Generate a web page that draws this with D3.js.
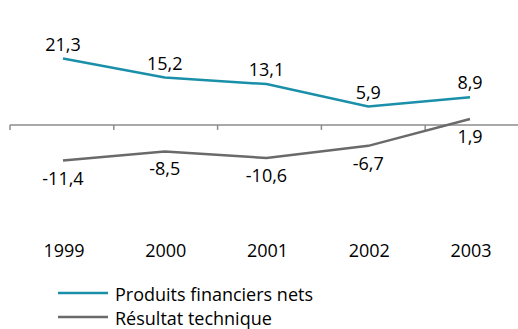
<!DOCTYPE html>
<html>
<head>
<meta charset="utf-8">
<script src="https://cdn.jsdelivr.net/npm/d3@7"></script>
<style>
  html, body { margin: 0; padding: 0; background: #fff; }
  svg { display: block; font-family: "Open Sans", "Noto Sans", sans-serif; }
</style>
</head>
<body>
<svg id="chart" width="518" height="329"></svg>
<script>
// Data
const years = ["1999", "2000", "2001", "2002", "2003"];
const produitsFinanciers = [21.3, 15.2, 13.1, 5.9, 8.9];
const resultatTechnique = [-11.4, -8.5, -10.6, -6.7, 1.9];
const seriesNames = ["Produits financiers nets", "Résultat technique"];
const subtitle = "(en % des primes acquises)";

const cyan = "#1a8fa9";
const grey = "#6a6a6a";
const axisGrey = "#8c8c8c";
const fontSize = 18;

const svg = d3.select("#chart");

// Scales
const x = d3.scalePoint().domain(years).range([63, 470]);
const xBand = d3.scaleBand().domain(years).range([10, 529]);
const y = d3.scaleLinear().domain([-11.4, 21.3]).range([160.5, 58.5]);

const fmt = v => String(v.toFixed(1)).replace(".", ",");

// Subtitle, running off the top edge
svg.append("text")
  .attr("x", 8).attr("y", -4)
  .attr("fill", cyan)
  .attr("font-size", 18)
  .text(subtitle);

// Zero axis
svg.append("line")
  .attr("x1", 10).attr("x2", 518)
  .attr("y1", y(0)).attr("y2", y(0))
  .attr("stroke", axisGrey).attr("stroke-width", 1.5);

svg.append("g").selectAll("line")
  .data(years)
  .join("line")
  .attr("x1", d => xBand(d)).attr("x2", d => xBand(d))
  .attr("y1", y(0)).attr("y2", y(0) + 5)
  .attr("stroke", axisGrey).attr("stroke-width", 1.5);

// Lines
const line = d3.line()
  .x((d, i) => x(years[i]))
  .y(d => y(d));

svg.append("path")
  .datum(produitsFinanciers)
  .attr("d", line)
  .attr("fill", "none")
  .attr("stroke", cyan)
  .attr("stroke-width", 2.5);

svg.append("path")
  .datum(resultatTechnique)
  .attr("d", line)
  .attr("fill", "none")
  .attr("stroke", grey)
  .attr("stroke-width", 2.5);

// Value labels
svg.append("g").selectAll("text")
  .data(produitsFinanciers)
  .join("text")
  .attr("x", (d, i) => x(years[i]))
  .attr("y", d => y(d) - 8)
  .attr("text-anchor", "middle")
  .attr("font-size", fontSize)
  .attr("fill", "#000")
  .text(fmt);

svg.append("g").selectAll("text")
  .data(resultatTechnique)
  .join("text")
  .attr("x", (d, i) => x(years[i]))
  .attr("y", d => y(d) + 24)
  .attr("text-anchor", "middle")
  .attr("font-size", fontSize)
  .attr("fill", "#000")
  .text(fmt);

// Year labels
svg.append("g").selectAll("text")
  .data(years)
  .join("text")
  .attr("x", d => x(d) + 1)
  .attr("y", 257)
  .attr("text-anchor", "middle")
  .attr("font-size", fontSize)
  .attr("fill", "#000")
  .text(d => d);

// Legend
const legend = svg.append("g");
const legendColors = [cyan, grey];
legendColors.forEach((c, i) => {
  const ly = 293 + i * 24;
  legend.append("line")
    .attr("x1", 58).attr("x2", 108)
    .attr("y1", ly).attr("y2", ly)
    .attr("stroke", c).attr("stroke-width", 2.5);
  legend.append("text")
    .attr("x", 115).attr("y", ly + 8)
    .attr("font-size", fontSize)
    .attr("fill", "#000")
    .text(seriesNames[i]);
});
</script>
</body>
</html>
